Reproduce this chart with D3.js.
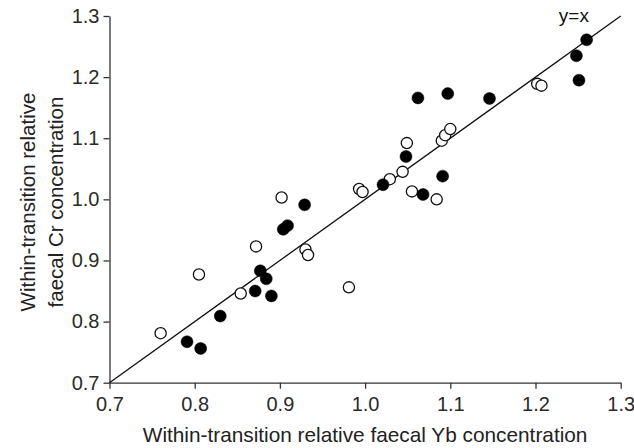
<!DOCTYPE html>
<html>
<head>
<meta charset="utf-8">
<script src="https://cdn.jsdelivr.net/npm/d3@7"></script>
<style>
  html, body { margin: 0; padding: 0; background: #fff; }
  svg { display: block; font-family: "Liberation Sans", Arial, sans-serif; }
</style>
</head>
<body>
<svg id="chart" width="634" height="448"></svg>
<script>
// Tick labels
const xTicks = [0.7, 0.8, 0.9, 1.0, 1.1, 1.2, 1.3];
const yTicks = [0.7, 0.8, 0.9, 1.0, 1.1, 1.2, 1.3];

// Open circles (Yb, Cr)
const openYb = [0.760, 0.805, 0.854, 0.872, 0.902, 0.930, 0.933, 0.981, 0.993, 0.997, 1.029, 1.044, 1.049, 1.055, 1.084, 1.090, 1.094, 1.100, 1.202, 1.207];
const openCr = [0.781, 0.877, 0.846, 0.923, 1.003, 0.918, 0.909, 0.856, 1.017, 1.012, 1.033, 1.045, 1.092, 1.013, 1.000, 1.096, 1.105, 1.115, 1.189, 1.186];

// Filled circles (Yb, Cr)
const filledYb = [0.791, 0.807, 0.830, 0.871, 0.877, 0.884, 0.890, 0.904, 0.909, 0.929, 1.021, 1.048, 1.062, 1.068, 1.091, 1.097, 1.146, 1.248, 1.251, 1.260];
const filledCr = [0.767, 0.756, 0.809, 0.850, 0.883, 0.870, 0.842, 0.951, 0.957, 0.991, 1.024, 1.070, 1.166, 1.008, 1.038, 1.173, 1.165, 1.235, 1.195, 1.261];

// Identity line
const lineX = [0.7, 1.3];

const xTitle = "Within-transition relative faecal Yb concentration";
const yTitle1 = "Within-transition relative";
const yTitle2 = "faecal Cr concentration";
const lineLabel = "y=x";

const svg = d3.select("#chart");
const mLeft = 109.5, mRight = 620.7, mTop = 16, mBottom = 382.7;

const x = d3.scaleLinear().domain([0.7, 1.3]).range([mLeft, mRight]);
const y = d3.scaleLinear().domain([0.7, 1.3]).range([mBottom, mTop]);

const fmt = d3.format(".1f");

const xAxis = svg.append("g")
  .attr("transform", `translate(0,${mBottom})`)
  .call(d3.axisBottom(x).tickValues(xTicks).tickFormat(fmt).tickSize(6).tickSizeOuter(0).tickPadding(8));
const yAxis = svg.append("g")
  .attr("transform", `translate(${mLeft},0)`)
  .call(d3.axisLeft(y).tickValues(yTicks).tickFormat(fmt).tickSize(6).tickSizeOuter(0).tickPadding(4));

[xAxis, yAxis].forEach(g => {
  g.attr("font-size", 20).attr("font-family", "'Liberation Sans', Arial, sans-serif");
  g.select(".domain").attr("stroke", "#333").attr("stroke-width", 1.3);
  g.selectAll(".tick line").attr("stroke", "#333").attr("stroke-width", 1.3);
  g.selectAll(".tick text").attr("fill", "#2a2a2a");
});

// identity line
svg.append("line")
  .attr("x1", x(lineX[0])).attr("y1", y(lineX[0]))
  .attr("x2", x(lineX[1])).attr("y2", y(lineX[1]))
  .attr("stroke", "#111").attr("stroke-width", 1.3);

svg.append("text")
  .attr("x", x(1.245)).attr("y", y(1.29))
  .attr("text-anchor", "middle")
  .attr("font-size", 19).attr("fill", "#111")
  .text(lineLabel);

// points
const openPts = openYb.map((v, i) => [v, openCr[i]]);
const filledPts = filledYb.map((v, i) => [v, filledCr[i]]);

svg.append("g").selectAll("circle").data(openPts).join("circle")
  .attr("cx", d => x(d[0])).attr("cy", d => y(d[1])).attr("r", 5.6)
  .attr("fill", "#fff").attr("stroke", "#111").attr("stroke-width", 1.3);

svg.append("g").selectAll("circle").data(filledPts).join("circle")
  .attr("cx", d => x(d[0])).attr("cy", d => y(d[1])).attr("r", 6)
  .attr("fill", "#000").attr("stroke", "#000").attr("stroke-width", 0.5);

// titles
svg.append("text")
  .attr("x", (mLeft + mRight) / 2).attr("y", 442)
  .attr("text-anchor", "middle")
  .attr("font-size", 20.8).attr("fill", "#222")
  .text(xTitle);

const yc = 202;
svg.append("text")
  .attr("transform", `translate(35,${yc}) rotate(-90)`)
  .attr("text-anchor", "middle")
  .attr("font-size", 20.5).attr("fill", "#222")
  .text(yTitle1);
svg.append("text")
  .attr("transform", `translate(63,${yc}) rotate(-90)`)
  .attr("text-anchor", "middle")
  .attr("font-size", 20.5).attr("fill", "#222")
  .text(yTitle2);
</script>
</body>
</html>
